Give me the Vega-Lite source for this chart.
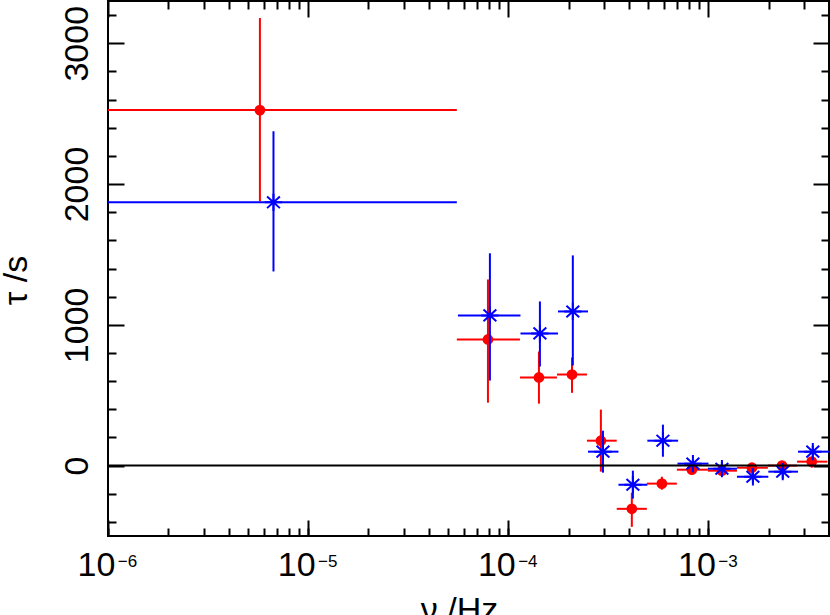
{
  "$schema": "https://vega.github.io/schema/vega-lite/v6.json",
  "width": 721,
  "height": 535,
  "autosize": {"type": "none"},
  "padding": {"left": 108, "top": 1, "right": 1, "bottom": 79},
  "background": "white",
  "config": {
    "view": {"stroke": "black", "strokeWidth": 2},
    "font": "'Liberation Sans Narrow', 'Liberation Sans', sans-serif",
    "axis": {"domain": false, "grid": false, "tickWidth": 2, "tickColor": "black", "labelColor": "black", "titleColor": "black", "labelFlush": false, "labelOverlap": false, "labelBound": false, "titleFontWeight": "normal", "labelFont": "'Liberation Sans Narrow', 'Liberation Sans', sans-serif", "titleFont": "'Liberation Sans Narrow', 'Liberation Sans', sans-serif"}
  },
  "datasets": {
    "red": [
      {"x": 5.74e-6, "xlo": 1e-6, "xhi": 5.53e-5, "y": 2525, "ylo": 1877, "yhi": 3179},
      {"x": 7.91e-5, "xlo": 5.53e-5, "xhi": 1.143e-4, "y": 896, "ylo": 447, "yhi": 1322},
      {"x": 1.422e-4, "xlo": 1.143e-4, "xhi": 1.75e-4, "y": 626, "ylo": 440, "yhi": 810},
      {"x": 2.08e-4, "xlo": 1.75e-4, "xhi": 2.47e-4, "y": 647, "ylo": 517, "yhi": 768},
      {"x": 2.9e-4, "xlo": 2.47e-4, "xhi": 3.48e-4, "y": 177, "ylo": -43, "yhi": 398},
      {"x": 4.14e-4, "xlo": 3.48e-4, "xhi": 4.92e-4, "y": -307, "ylo": -435, "yhi": -193},
      {"x": 5.85e-4, "xlo": 4.92e-4, "xhi": 6.95e-4, "y": -128, "ylo": -171, "yhi": -79},
      {"x": 8.26e-4, "xlo": 6.95e-4, "xhi": 9.93e-4, "y": -29, "ylo": -58, "yhi": 0},
      {"x": 1.167e-3, "xlo": 9.93e-4, "xhi": 1.387e-3, "y": -36, "ylo": -66, "yhi": -6},
      {"x": 1.648e-3, "xlo": 1.387e-3, "xhi": 1.98e-3, "y": -15, "ylo": -58, "yhi": 14},
      {"x": 2.33e-3, "xlo": 1.98e-3, "xhi": 2.77e-3, "y": 0, "ylo": -29, "yhi": 20},
      {"x": 3.28e-3, "xlo": 2.77e-3, "xhi": 3.93e-3, "y": 28, "ylo": -15, "yhi": 56}
    ],
    "blue": [
      {"x": 6.71e-6, "xlo": 1e-6, "xhi": 5.53e-5, "y": 1870, "ylo": 1379, "yhi": 2375},
      {"x": 8.09e-5, "xlo": 5.6e-5, "xhi": 1.15e-4, "y": 1067, "ylo": 604, "yhi": 1508},
      {"x": 1.438e-4, "xlo": 1.15e-4, "xhi": 1.77e-4, "y": 939, "ylo": 704, "yhi": 1166},
      {"x": 2.1e-4, "xlo": 1.77e-4, "xhi": 2.5e-4, "y": 1095, "ylo": 711, "yhi": 1493},
      {"x": 2.97e-4, "xlo": 2.5e-4, "xhi": 3.55e-4, "y": 99, "ylo": -50, "yhi": 248},
      {"x": 4.19e-4, "xlo": 3.55e-4, "xhi": 4.95e-4, "y": -136, "ylo": -235, "yhi": -36},
      {"x": 5.92e-4, "xlo": 4.95e-4, "xhi": 7.05e-4, "y": 177, "ylo": 63, "yhi": 291},
      {"x": 8.36e-4, "xlo": 7.0e-4, "xhi": 1.0e-3, "y": 14, "ylo": -29, "yhi": 42},
      {"x": 1.167e-3, "xlo": 9.93e-4, "xhi": 1.387e-3, "y": -22, "ylo": -72, "yhi": 28},
      {"x": 1.667e-3, "xlo": 1.387e-3, "xhi": 1.99e-3, "y": -79, "ylo": -121, "yhi": -36},
      {"x": 2.35e-3, "xlo": 1.99e-3, "xhi": 2.8e-3, "y": -43, "ylo": -93, "yhi": 14},
      {"x": 3.32e-3, "xlo": 2.8e-3, "xhi": 4e-3, "y": 99, "ylo": 49, "yhi": 142}
    ],
    "zero": [{"level": 0}]
  },
  "resolve": {"axis": {"x": "independent", "y": "independent"}},
  "layer": [
    {
      "data": {"name": "red"},
      "mark": {"type": "rule", "color": "#ff0000", "strokeWidth": 2, "clip": true},
      "encoding": {
        "x": {"field": "xlo", "type": "quantitative",
          "scale": {"type": "log", "domain": [1e-6, 4e-3], "nice": false},
          "axis": {
            "orient": "bottom",
            "values": [1e-6, 1e-5, 1e-4, 1e-3],
            "tickSize": -16,
            "labelExpr": "'10'",
            "labelFontSize": 34, "labelBaseline": "alphabetic", "labelAlign": "center",
            "labelPadding": 55, "labelOffset": -12,
            "title": "ν /Hz", "titleFontSize": 34,
            "titleX": 351, "titleY": 84, "titleBaseline": "alphabetic", "titleAlign": "center", "titleAnchor": null
          }
        },
        "x2": {"field": "xhi"},
        "y": {"field": "y", "type": "quantitative",
          "scale": {"domain": [-500, 3300], "nice": false, "zero": false},
          "axis": {
            "orient": "left",
            "values": [0, 1000, 2000, 3000],
            "tickSize": -16,
            "labelFontSize": 34, "labelAngle": -90, "labelAlign": "center", "labelBaseline": "alphabetic", "labelPadding": 37,
            "format": "d",
            "title": "τ /s", "titleFontSize": 34,
            "titleAngle": -90, "titleX": -82, "titleY": 279, "titleBaseline": "alphabetic", "titleAlign": "center", "titleAnchor": null
          }
        }
      }
    },
    {
      "data": {"name": "red"},
      "mark": {"type": "rule", "color": "#ff0000", "strokeWidth": 2, "clip": true},
      "encoding": {
        "x": {"field": "x", "type": "quantitative",
          "scale": {"type": "log", "domain": [1e-6, 4e-3], "nice": false},
          "axis": {
            "orient": "bottom",
            "values": [1e-6, 2e-6, 3e-6, 4e-6, 5e-6, 6e-6, 7e-6, 8e-6, 9e-6, 1e-5, 2e-5, 3e-5, 4e-5, 5e-5, 6e-5, 7e-5, 8e-5, 9e-5, 1e-4, 2e-4, 3e-4, 4e-4, 5e-4, 6e-4, 7e-4, 8e-4, 9e-4, 1e-3, 2e-3, 3e-3],
            "tickSize": -8,
            "labelExpr": "datum.value > 0.9e-6 && datum.value < 1.1e-6 ? '−6' : datum.value > 0.9e-5 && datum.value < 1.1e-5 ? '−5' : datum.value > 0.9e-4 && datum.value < 1.1e-4 ? '−4' : datum.value > 0.9e-3 && datum.value < 1.1e-3 ? '−3' : ''",
            "labelFontSize": 17, "labelBaseline": "alphabetic", "labelAlign": "center",
            "labelPadding": 38, "labelOffset": 19,
            "title": null
          }
        },
        "y": {"field": "ylo", "type": "quantitative",
          "scale": {"domain": [-500, 3300], "nice": false, "zero": false},
          "axis": {
            "orient": "left",
            "values": [-400, -200, 200, 400, 600, 800, 1200, 1400, 1600, 1800, 2200, 2400, 2600, 2800, 3200],
            "tickSize": -8, "labels": false, "title": null
          }
        },
        "y2": {"field": "yhi"}
      }
    },
    {
      "data": {"name": "red"},
      "mark": {"type": "point", "shape": "circle", "filled": true, "color": "#ff0000", "size": 115, "opacity": 1},
      "encoding": {
        "x": {"field": "x", "type": "quantitative", "scale": {"type": "log", "domain": [1e-6, 4e-3], "nice": false},
          "axis": {"orient": "top", "values": [1e-6, 1e-5, 1e-4, 1e-3], "tickSize": -16, "labels": false, "title": null}
        },
        "y": {"field": "y", "type": "quantitative", "scale": {"domain": [-500, 3300], "nice": false, "zero": false},
          "axis": {"orient": "right", "values": [0, 1000, 2000, 3000], "tickSize": -16, "labels": false, "title": null}
        }
      }
    },
    {
      "data": {"name": "blue"},
      "mark": {"type": "rule", "color": "#0000ff", "strokeWidth": 2, "clip": true},
      "encoding": {
        "x": {"field": "xlo", "type": "quantitative", "scale": {"type": "log", "domain": [1e-6, 4e-3], "nice": false},
          "axis": {"orient": "top", "values": [2e-6, 3e-6, 4e-6, 5e-6, 6e-6, 7e-6, 8e-6, 9e-6, 2e-5, 3e-5, 4e-5, 5e-5, 6e-5, 7e-5, 8e-5, 9e-5, 2e-4, 3e-4, 4e-4, 5e-4, 6e-4, 7e-4, 8e-4, 9e-4, 2e-3, 3e-3], "tickSize": -8, "labels": false, "title": null}
        },
        "x2": {"field": "xhi"},
        "y": {"field": "y", "type": "quantitative", "scale": {"domain": [-500, 3300], "nice": false, "zero": false},
          "axis": {"orient": "right", "values": [-400, -200, 200, 400, 600, 800, 1200, 1400, 1600, 1800, 2200, 2400, 2600, 2800, 3200], "tickSize": -8, "labels": false, "title": null}
        }
      }
    },
    {
      "data": {"name": "blue"},
      "mark": {"type": "rule", "color": "#0000ff", "strokeWidth": 2, "clip": true},
      "encoding": {
        "x": {"field": "x", "type": "quantitative", "scale": {"type": "log", "domain": [1e-6, 4e-3], "nice": false}, "axis": null},
        "y": {"field": "ylo", "type": "quantitative", "scale": {"domain": [-500, 3300], "nice": false, "zero": false}, "axis": null},
        "y2": {"field": "yhi"}
      }
    },
    {
      "data": {"name": "blue"},
      "mark": {"type": "point", "shape": "M0,-1L0,1M-1,0L1,0M-0.74,-0.67L0.74,0.67M-0.74,0.67L0.74,-0.67", "filled": false, "color": "#0000ff", "strokeWidth": 2, "size": 300, "opacity": 1},
      "encoding": {
        "x": {"field": "x", "type": "quantitative", "scale": {"type": "log", "domain": [1e-6, 4e-3], "nice": false}, "axis": null},
        "y": {"field": "y", "type": "quantitative", "scale": {"domain": [-500, 3300], "nice": false, "zero": false}, "axis": null}
      }
    },
    {
      "data": {"name": "zero"},
      "mark": {"type": "rule", "color": "black", "strokeWidth": 2},
      "encoding": {
        "y": {"field": "level", "type": "quantitative", "scale": {"domain": [-500, 3300], "nice": false, "zero": false}, "axis": null}
      }
    }
  ]
}
